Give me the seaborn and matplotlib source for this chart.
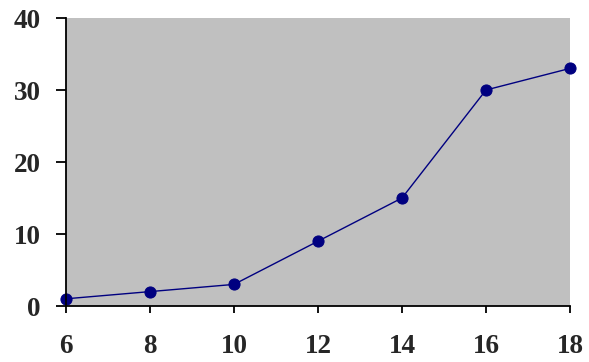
import matplotlib
matplotlib.use("Agg")
import matplotlib.pyplot as plt
import seaborn as sns
import pandas as pd

x_values = [6, 8, 10, 12, 14, 16, 18]
y_values = [1, 2, 3, 9, 15, 30, 33]
x_ticks = [6, 8, 10, 12, 14, 16, 18]
y_ticks = [0, 10, 20, 30, 40]

df = pd.DataFrame({"x": x_values, "y": y_values})

sns.set_theme(style="white")
plt.rcParams["font.family"] = ["Liberation Serif", "DejaVu Serif"]

fig = plt.figure(figsize=(5.89, 3.62), dpi=100)
ax = fig.add_axes([66 / 589, 1 - 306 / 362, (570 - 66) / 589, (306 - 18) / 362])
ax.set_facecolor("#C0C0C0")

sns.lineplot(data=df, x="x", y="y", ax=ax, color="#000080", linewidth=1.0,
             marker="o", markersize=8, markeredgecolor="#000080",
             markerfacecolor="#000080")

ax.set_xlim(6, 18)
ax.set_ylim(0, 40)
ax.set_xticks(x_ticks)
ax.set_yticks(y_ticks)
ax.set_xlabel("")
ax.set_ylabel("")

for side in ("top", "right"):
    ax.spines[side].set_visible(False)
for side in ("left", "bottom"):
    ax.spines[side].set_color("black")
    ax.spines[side].set_linewidth(1.3)

ax.tick_params(axis="y", direction="out", length=7, width=1.3, color="black",
               left=True, pad=11, labelsize=19.5)
ax.tick_params(axis="x", direction="out", length=5, width=1.3, color="black",
               bottom=True, pad=15, labelsize=19.5)
for lbl in ax.get_xticklabels() + ax.get_yticklabels():
    lbl.set_fontweight("bold")

for line in ax.lines:
    line.set_clip_on(False)

fig.savefig("out.png", dpi=100, facecolor="white")
